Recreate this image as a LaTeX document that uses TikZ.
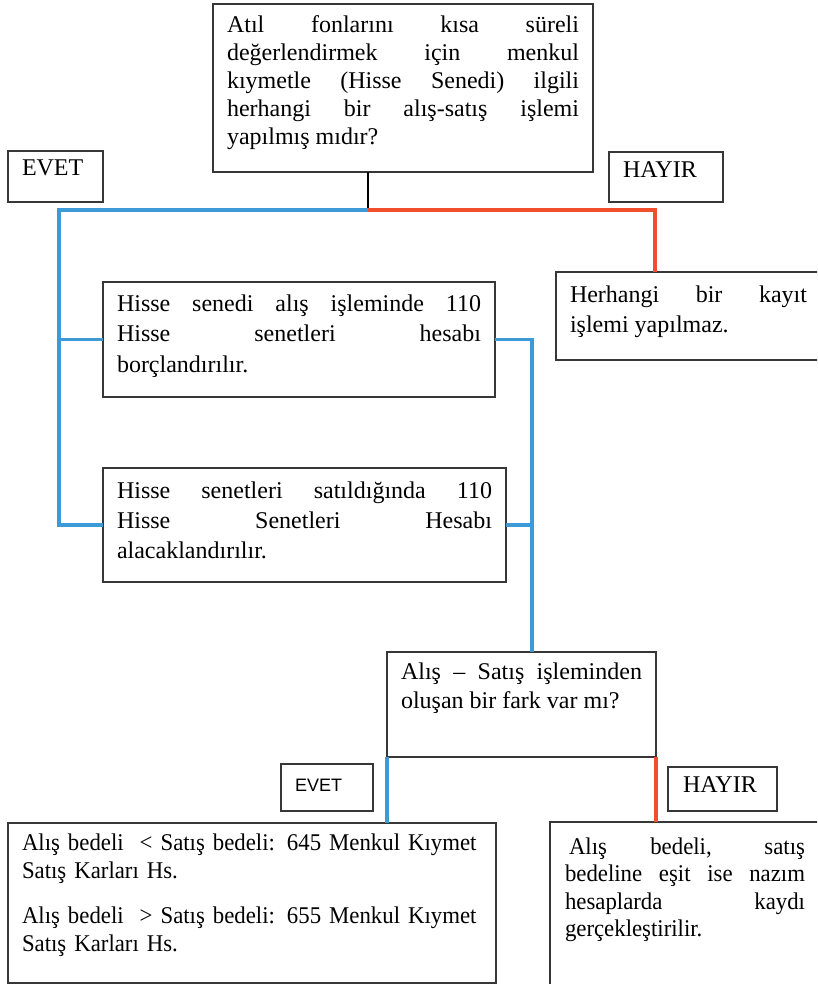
\documentclass[tikz,border=0pt]{standalone}
\usepackage{fontspec}
\setmainfont{Liberation Serif}
\newfontfamily\arialfont{Liberation Sans}
\newfontfamily\darfont[FakeStretch=0.95]{Liberation Serif}
\definecolor{kenarcolor}{RGB}{55,55,55}
\definecolor{evetcolor}{RGB}{61,154,214}
\definecolor{hayircolor}{RGB}{240,78,45}
\tolerance=9999
\hyphenpenalty=10000

\begin{document}
\begin{tikzpicture}[
    x=1pt, y=-1pt,
    kutu/.style={
        rectangle, draw=kenarcolor, line width=1.6pt,
        anchor=north west, inner xsep=14pt, inner ysep=0pt, outer sep=0pt,
        align=justify, font=\fontsize{24}{28}\selectfont
    },
    etiket/.style={kutu, align=left},
    evethat/.style={draw=evetcolor, line width=3.2pt},
    hayirhat/.style={draw=hayircolor, line width=3.2pt},
    baglanti/.style={draw=black, line width=1.6pt}
]

\useasboundingbox (0,0) rectangle (817,984);
\clip (0,0) rectangle (817,984);

% Soru
\node[kutu, text width=352pt, text height=29pt, text depth=139pt] (soru) at (213,4)
{Atıl fonlarını kısa süreli\linebreak değerlendirmek için menkul\linebreak
kıymetle (Hisse Senedi) ilgili\linebreak herhangi bir alış-satış işlemi\linebreak
yapılmış mıdır?};

% Cevap etiketleri
\node[etiket, text width=67pt, text height=25pt, text depth=26pt] (evet1) at (8,151) {EVET};
\node[etiket, text width=86pt, text height=26pt, text depth=24pt] (hayir1) at (609,152) {HAYIR};

% Hayir yolu
\node[kutu, text width=237pt, text height=30pt, text depth=58pt,
      font=\fontsize{24}{30}\selectfont] (yok) at (556,272)
{Herhangi bir kayıt\linebreak işlemi yapılmaz.};

% Evet yolu
\node[kutu, text width=364pt, text height=29pt, text depth=86pt,
      font=\fontsize{24}{30.5}\selectfont] (alis) at (103,282)
{Hisse senedi alış işleminde 110\linebreak Hisse senetleri hesabı\linebreak
borçlandırılır.};

\node[kutu, text width=375pt, text height=30pt, text depth=84pt,
      font=\fontsize{24}{30}\selectfont] (satis) at (103,468)
{Hisse senetleri satıldığında 110\linebreak Hisse Senetleri Hesabı\linebreak
alacaklandırılır.};

% Ikinci soru
\node[kutu, text width=241pt, text height=27pt, text depth=78pt,
      font=\fontsize{24}{29}\selectfont] (fark) at (387,652)
{Alış – Satış işleminden\linebreak oluşan bir fark var mı?};

\node[etiket, text width=64pt, text height=27pt, text depth=20pt,
      font=\arialfont\fontsize{18}{22}\selectfont] (evet2) at (281,764) {EVET};
\node[etiket, inner xsep=15pt, text width=79pt, text height=25pt, text depth=19pt] (hayir2) at (668,767) {HAYIR};

% Sonuclar
\node[etiket, text width=460pt, text height=27pt, text depth=133pt,
      font=\darfont\fontsize{24}{28}\selectfont] (fark645) at (8,823)
{Alış bedeli\ \ < Satış bedeli: 645 Menkul Kıymet\\ Satış Karları Hs.\\[17pt]
Alış bedeli\ \ > Satış bedeli: 655 Menkul Kıymet\\ Satış Karları Hs.};

\node[kutu, inner xsep=15pt, text width=240pt, text height=32pt, text depth=200pt,
      font=\darfont\fontsize{24}{27.5}\selectfont] (esit) at (550,822)
{\hspace*{4pt}Alış bedeli, satış\linebreak bedeline eşit ise nazım\linebreak
hesaplarda kaydı\linebreak gerçekleştirilir.};

% Baglantilar
\coordinate (kavsak) at (368,210);
\coordinate (solhat) at (59,210);
\coordinate (sagust) at (655,210);
\coordinate (orta) at (532,336);

\draw[baglanti] (kavsak |- soru.south) -- (kavsak);
\draw[evethat] (kavsak) -- (solhat) |- (satis.west);
\draw[evethat] (alis.west) -- (alis.west -| solhat);
\draw[hayirhat] (kavsak) -- (sagust) -- (sagust |- yok.north);

\draw[evethat] (alis.east) -| (fark.north -| orta);
\draw[evethat] (satis.east) -- (satis.east -| orta);

\draw[evethat] (fark.south west) -- (fark.south west |- fark645.north);
\draw[hayirhat] (fark.south east) -- (fark.south east |- esit.north);

\end{tikzpicture}
\end{document}
